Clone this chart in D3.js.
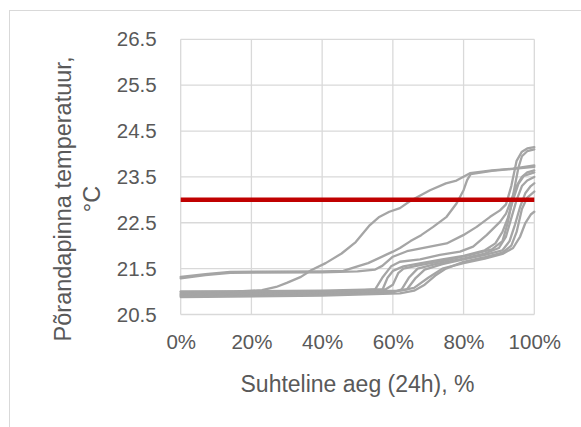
<!DOCTYPE html>
<html><head><meta charset="utf-8">
<script src="https://cdn.jsdelivr.net/npm/d3@7"></script>
<style>html,body{margin:0;padding:0;background:#fff;}</style>
</head><body>
<svg id="c" width="581" height="427"></svg>
<script>
// ---- data ----
const yTicks = [20.5, 21.5, 22.5, 23.5, 24.5, 25.5, 26.5];
const xTicks = [0, 20, 40, 60, 80, 100];
const threshold = 23.0;
const xTitle = "Suhteline aeg (24h), %";
const yTitle1 = "Põrandapinna temperatuur,";
const yTitle2 = "°C";

const s1 = [[0,21.0],[15,21.0],[23,21.03],[27,21.1],[30,21.19],[34,21.32],[37,21.47],[41,21.62],[45.5,21.83],[49.5,22.08],[53.5,22.45],[56,22.62],[59,22.74],[62,22.82],[65,22.98],[70.5,23.21],[75,23.36],[78,23.42],[81.8,23.58],[88,23.64],[94,23.68],[100,23.75]];
const sA1 = [[0,21.32],[7,21.38],[14,21.43],[40,21.44],[46,21.45],[50,21.55],[53,21.62],[55,21.69],[58,21.8],[60,21.87],[62,21.95],[65,22.1],[68,22.23],[71.4,22.41],[75.2,22.63],[78,22.92],[80,23.21],[81,23.43],[82,23.56],[88,23.63],[100,23.72]];
const sA2 = [[0,21.29],[7,21.36],[14,21.41],[40,21.42],[50,21.44],[55,21.48],[57,21.56],[60,21.76],[64,21.88],[70.5,21.98],[75.2,22.05],[79.9,22.23],[83.7,22.41],[87.5,22.63],[90.3,22.77],[92,22.9],[93.5,23.3],[95,23.85],[96.5,24.05],[98,24.12],[100,24.15]];
const sD = [[0,20.97],[30,20.99],[50,21.02],[55,21.05],[57,21.3],[59.5,21.55],[62,21.65],[67.7,21.7],[73.3,21.8],[79,21.87],[82.7,21.98],[86.5,22.23],[90.3,22.52],[92,22.7],[93.5,23.0],[95,23.3],[96.5,23.5],[98,23.6],[100,23.64]];
const s5 = [[0,20.93],[30,20.96],[50,21.0],[57,21.03],[58.5,21.3],[60,21.45],[63,21.55],[68,21.62],[74,21.7],[80,21.78],[86,21.9],[89,22.05],[91,22.3],[92.5,22.6],[94,23.0],[95.5,23.35],[97,23.52],[100,23.6]];
const s6 = [[0,20.9],[40,20.93],[60,20.98],[62.5,21.05],[64.5,21.3],[67,21.5],[72,21.6],[80,21.72],[86,21.83],[90,21.95],[92,22.2],[93.5,22.6],[95,23.0],[96.5,23.3],[98,23.42],[100,23.5]];
const s7 = [[0,20.92],[40,20.95],[60,21.0],[64,21.05],[66.5,21.3],[69,21.48],[74,21.6],[80,21.7],[86,21.8],[91,21.9],[93,22.1],[94.5,22.45],[96,22.85],[97.5,23.15],[99,23.3],[100,23.36]];
const s8 = [[0,20.88],[40,20.91],[62,20.96],[66,21.02],[69,21.15],[72,21.35],[75,21.5],[80,21.65],[86,21.75],[91,21.85],[93.5,22.0],[95,22.3],[96.5,22.8],[98,23.05],[100,23.18]];
const s9 = [[0,20.95],[40,20.98],[62,21.02],[66,21.08],[70,21.3],[74,21.5],[80,21.62],[86,21.72],[91,21.82],[94,21.95],[96,22.2],[97.5,22.5],[99,22.68],[100,22.74]];
const s10 = [[0,21.0],[40,21.02],[58,21.05],[60,21.15],[61.5,21.4],[63,21.5],[68,21.58],[75,21.68],[82,21.8],[88,21.92],[91,22.1],[92.5,22.5],[93.5,22.9],[94.5,23.3],[95.5,23.7],[96.5,23.95],[98,24.06],[100,24.1]];
const series = [s1, sA1, sA2, sD, s5, s6, s7, s8, s9, s10];

// ---- layout ----
const L = 180.7, R = 534.3, T = 39.3, B = 314.5;
const FONT = "'Liberation Sans', Arial, sans-serif";
const svg = d3.select("#c");

// outer chart border (right/bottom edges fall outside the picture)
svg.append("rect").attr("x", 9.5).attr("y", 10.5).attr("width", 600).attr("height", 500)
  .attr("fill", "none").attr("stroke", "#d9d9d9").attr("stroke-width", 1);

const x = d3.scaleLinear().domain([0, 100]).range([L, R]);
const y = d3.scaleLinear().domain([20.5, 26.5]).range([B, T]);

// gridlines
const g = svg.append("g");
g.selectAll("line.h").data(yTicks).join("line")
  .attr("x1", L).attr("x2", R).attr("y1", d => y(d)).attr("y2", d => y(d))
  .attr("stroke", "#d9d9d9").attr("stroke-width", 1.3);
g.selectAll("line.v").data(xTicks).join("line")
  .attr("y1", T).attr("y2", B).attr("x1", d => x(d)).attr("x2", d => x(d))
  .attr("stroke", "#d9d9d9").attr("stroke-width", 1.3);

// axes (labels only)
const yAxis = d3.axisLeft(y).tickValues(yTicks).tickFormat(d3.format(".1f")).tickSize(0).tickPadding(24);
const ya = svg.append("g").attr("transform", `translate(${L},0)`).call(yAxis);
ya.select(".domain").remove();
ya.selectAll("text").attr("font-family", FONT).attr("font-size", 20.5).attr("fill", "#595959");

const xAxis = d3.axisBottom(x).tickValues(xTicks).tickFormat(d => d + "%").tickSize(0).tickPadding(20);
const xa = svg.append("g").attr("transform", `translate(0,${B})`).call(xAxis);
xa.select(".domain").remove();
xa.selectAll("text").attr("font-family", FONT).attr("font-size", 20.5).attr("fill", "#595959");

// series
const line = d3.line().x(d => x(d[0])).y(d => y(d[1]));
svg.append("g").selectAll("path").data(series).join("path")
  .attr("d", line).attr("fill", "none").attr("stroke", "#a5a5a5")
  .attr("stroke-width", 2.3).attr("stroke-linejoin", "round").attr("stroke-linecap", "round");

// threshold
svg.append("path").datum([[0, threshold], [100, threshold]])
  .attr("d", line).attr("fill", "none").attr("stroke", "#c00000").attr("stroke-width", 4.5);

// titles
svg.append("text").attr("x", (L + R) / 2).attr("y", 391.5).attr("text-anchor", "middle")
  .attr("font-family", FONT).attr("font-size", 23).attr("fill", "#595959").text(xTitle);
const yt = svg.append("g").attr("transform", "translate(0,199) rotate(-90)");
yt.append("text").attr("x", 0).attr("y", 70.5).attr("text-anchor", "middle")
  .attr("font-family", FONT).attr("font-size", 23.5).attr("fill", "#595959").text(yTitle1);
yt.append("text").attr("x", 0).attr("y", 100).attr("text-anchor", "middle")
  .attr("font-family", FONT).attr("font-size", 23.5).attr("fill", "#595959").text(yTitle2);
</script>
</body></html>
